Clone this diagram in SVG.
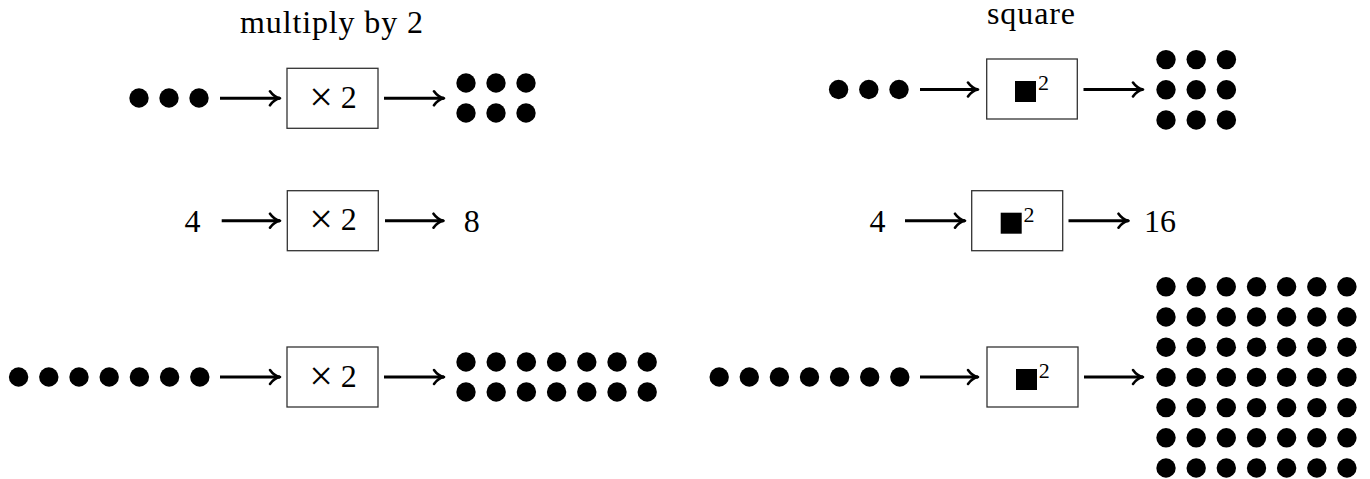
<svg xmlns="http://www.w3.org/2000/svg" width="1370" height="479" viewBox="0 0 1370 479">
<style>
.dot{fill:#000}
.box{fill:#fff;stroke:#333;stroke-width:1.3}
.t{font-family:"Liberation Serif","Times New Roman",serif;fill:#000}
.title{font-size:32px;text-anchor:middle}
.num{font-size:32px;text-anchor:middle}
.times{font-size:42px}
.sup{font-size:22px}
.arr{stroke:#000;stroke-width:2.9;fill:none;marker-end:url(#ah)}
</style>
<defs>
<marker id="ah" markerUnits="userSpaceOnUse" markerWidth="16" markerHeight="18" viewBox="-3 -9 16 18" refX="10" refY="0" orient="auto">
<path d="M0,-7 C3,-2.7 7,-0.6 10,0 C7,0.6 3,2.7 0,7" fill="none" stroke="#000" stroke-width="2.6" stroke-linecap="round" stroke-linejoin="round"/>
</marker>
</defs>
<rect width="1370" height="479" fill="#fff"/>

<g id="title-multiply"><text class="t title" x="331.5" y="33" textLength="183" lengthAdjust="spacing">multiply by 2</text></g>
<g id="title-square"><text class="t title" x="1031" y="24" textLength="88" lengthAdjust="spacing">square</text></g>

<!-- Left column -->
<g id="l1-in">
<circle class="dot" cx="139" cy="98" r="9.7"/><circle class="dot" cx="169" cy="98" r="9.7"/><circle class="dot" cx="199" cy="98" r="9.7"/>
</g>
<g id="l1-box"><rect class="box" x="287" y="68.3" width="91" height="60"/><text class="t num" x="333" y="107.5"><tspan class="times" dy="3">×</tspan><tspan dy="-3"> 2</tspan></text></g>
<g id="l1-out">
<circle class="dot" cx="466" cy="83" r="9.7"/><circle class="dot" cx="496" cy="83" r="9.7"/><circle class="dot" cx="526" cy="83" r="9.7"/>
<circle class="dot" cx="466" cy="113" r="9.7"/><circle class="dot" cx="496" cy="113" r="9.7"/><circle class="dot" cx="526" cy="113" r="9.7"/>
</g>

<g id="l2-in"><text class="t num" x="192.5" y="231.5">4</text></g>
<g id="l2-box"><rect class="box" x="287.3" y="190.7" width="91" height="60"/><text class="t num" x="333" y="230"><tspan class="times" dy="3">×</tspan><tspan dy="-3"> 2</tspan></text></g>
<g id="l2-out"><text class="t num" x="471.7" y="231.5">8</text></g>

<g id="l3-in">
<circle class="dot" cx="18.6" cy="377" r="9.7"/><circle class="dot" cx="48.8" cy="377" r="9.7"/><circle class="dot" cx="79" cy="377" r="9.7"/><circle class="dot" cx="109.2" cy="377" r="9.7"/><circle class="dot" cx="139.4" cy="377" r="9.7"/><circle class="dot" cx="169.6" cy="377" r="9.7"/><circle class="dot" cx="199.8" cy="377" r="9.7"/>
</g>
<g id="l3-box"><rect class="box" x="287" y="347" width="91" height="60"/><text class="t num" x="333" y="386.5"><tspan class="times" dy="3">×</tspan><tspan dy="-3"> 2</tspan></text></g>
<g id="l3-out">
<circle class="dot" cx="466" cy="362" r="9.7"/><circle class="dot" cx="496.2" cy="362" r="9.7"/><circle class="dot" cx="526.4" cy="362" r="9.7"/><circle class="dot" cx="556.6" cy="362" r="9.7"/><circle class="dot" cx="586.8" cy="362" r="9.7"/><circle class="dot" cx="617" cy="362" r="9.7"/><circle class="dot" cx="647.2" cy="362" r="9.7"/>
<circle class="dot" cx="466" cy="392" r="9.7"/><circle class="dot" cx="496.2" cy="392" r="9.7"/><circle class="dot" cx="526.4" cy="392" r="9.7"/><circle class="dot" cx="556.6" cy="392" r="9.7"/><circle class="dot" cx="586.8" cy="392" r="9.7"/><circle class="dot" cx="617" cy="392" r="9.7"/><circle class="dot" cx="647.2" cy="392" r="9.7"/>
</g>

<!-- Right column -->
<g id="r1-in">
<circle class="dot" cx="838.6" cy="89.5" r="9.7"/><circle class="dot" cx="868.8" cy="89.5" r="9.7"/><circle class="dot" cx="899" cy="89.5" r="9.7"/>
</g>
<g id="r1-box"><rect class="box" x="986.7" y="59" width="90.6" height="60"/><rect x="1015" y="81" width="21" height="21" fill="#000"/><text class="t sup" x="1038" y="90">2</text></g>
<g id="r1-out">
<circle class="dot" cx="1166" cy="59.6" r="9.7"/><circle class="dot" cx="1196.2" cy="59.6" r="9.7"/><circle class="dot" cx="1226.4" cy="59.6" r="9.7"/>
<circle class="dot" cx="1166" cy="89.8" r="9.7"/><circle class="dot" cx="1196.2" cy="89.8" r="9.7"/><circle class="dot" cx="1226.4" cy="89.8" r="9.7"/>
<circle class="dot" cx="1166" cy="120" r="9.7"/><circle class="dot" cx="1196.2" cy="120" r="9.7"/><circle class="dot" cx="1226.4" cy="120" r="9.7"/>
</g>

<g id="r2-in"><text class="t num" x="877.5" y="231.5">4</text></g>
<g id="r2-box"><rect class="box" x="971.7" y="190.7" width="91" height="60"/><rect x="1000.7" y="212.7" width="21" height="21" fill="#000"/><text class="t sup" x="1023.5" y="221.7">2</text></g>
<g id="r2-out"><text class="t num" x="1160" y="231.5">16</text></g>

<g id="r3-in">
<circle class="dot" cx="719.2" cy="377" r="9.7"/><circle class="dot" cx="749.3" cy="377" r="9.7"/><circle class="dot" cx="779.4" cy="377" r="9.7"/><circle class="dot" cx="809.5" cy="377" r="9.7"/><circle class="dot" cx="839.6" cy="377" r="9.7"/><circle class="dot" cx="869.7" cy="377" r="9.7"/><circle class="dot" cx="899.8" cy="377" r="9.7"/>
</g>
<g id="r3-box"><rect class="box" x="987" y="347" width="91" height="60"/><rect x="1016" y="369" width="21" height="21" fill="#000"/><text class="t sup" x="1038.8" y="378">2</text></g>
<g id="r3-out">
<g>
<circle class="dot" cx="1166" cy="286.8" r="9.7"/><circle class="dot" cx="1196.2" cy="286.8" r="9.7"/><circle class="dot" cx="1226.3" cy="286.8" r="9.7"/><circle class="dot" cx="1256.5" cy="286.8" r="9.7"/><circle class="dot" cx="1286.6" cy="286.8" r="9.7"/><circle class="dot" cx="1316.8" cy="286.8" r="9.7"/><circle class="dot" cx="1346.9" cy="286.8" r="9.7"/>
</g>
<g>
<circle class="dot" cx="1166" cy="317" r="9.7"/><circle class="dot" cx="1196.2" cy="317" r="9.7"/><circle class="dot" cx="1226.3" cy="317" r="9.7"/><circle class="dot" cx="1256.5" cy="317" r="9.7"/><circle class="dot" cx="1286.6" cy="317" r="9.7"/><circle class="dot" cx="1316.8" cy="317" r="9.7"/><circle class="dot" cx="1346.9" cy="317" r="9.7"/>
</g>
<g>
<circle class="dot" cx="1166" cy="347.2" r="9.7"/><circle class="dot" cx="1196.2" cy="347.2" r="9.7"/><circle class="dot" cx="1226.3" cy="347.2" r="9.7"/><circle class="dot" cx="1256.5" cy="347.2" r="9.7"/><circle class="dot" cx="1286.6" cy="347.2" r="9.7"/><circle class="dot" cx="1316.8" cy="347.2" r="9.7"/><circle class="dot" cx="1346.9" cy="347.2" r="9.7"/>
</g>
<g>
<circle class="dot" cx="1166" cy="377.4" r="9.7"/><circle class="dot" cx="1196.2" cy="377.4" r="9.7"/><circle class="dot" cx="1226.3" cy="377.4" r="9.7"/><circle class="dot" cx="1256.5" cy="377.4" r="9.7"/><circle class="dot" cx="1286.6" cy="377.4" r="9.7"/><circle class="dot" cx="1316.8" cy="377.4" r="9.7"/><circle class="dot" cx="1346.9" cy="377.4" r="9.7"/>
</g>
<g>
<circle class="dot" cx="1166" cy="407.6" r="9.7"/><circle class="dot" cx="1196.2" cy="407.6" r="9.7"/><circle class="dot" cx="1226.3" cy="407.6" r="9.7"/><circle class="dot" cx="1256.5" cy="407.6" r="9.7"/><circle class="dot" cx="1286.6" cy="407.6" r="9.7"/><circle class="dot" cx="1316.8" cy="407.6" r="9.7"/><circle class="dot" cx="1346.9" cy="407.6" r="9.7"/>
</g>
<g>
<circle class="dot" cx="1166" cy="437.8" r="9.7"/><circle class="dot" cx="1196.2" cy="437.8" r="9.7"/><circle class="dot" cx="1226.3" cy="437.8" r="9.7"/><circle class="dot" cx="1256.5" cy="437.8" r="9.7"/><circle class="dot" cx="1286.6" cy="437.8" r="9.7"/><circle class="dot" cx="1316.8" cy="437.8" r="9.7"/><circle class="dot" cx="1346.9" cy="437.8" r="9.7"/>
</g>
<g>
<circle class="dot" cx="1166" cy="468" r="9.7"/><circle class="dot" cx="1196.2" cy="468" r="9.7"/><circle class="dot" cx="1226.3" cy="468" r="9.7"/><circle class="dot" cx="1256.5" cy="468" r="9.7"/><circle class="dot" cx="1286.6" cy="468" r="9.7"/><circle class="dot" cx="1316.8" cy="468" r="9.7"/><circle class="dot" cx="1346.9" cy="468" r="9.7"/>
</g>
</g>

<g id="connectors">
<line class="arr" x1="220" y1="98.3" x2="280" y2="98.3"/>
<line class="arr" x1="384" y1="98.3" x2="444" y2="98.3"/>
<line class="arr" x1="221.7" y1="220.7" x2="280" y2="220.7"/>
<line class="arr" x1="385" y1="220.7" x2="443.5" y2="220.7"/>
<line class="arr" x1="220" y1="377" x2="280" y2="377"/>
<line class="arr" x1="384" y1="377" x2="444" y2="377"/>
<line class="arr" x1="920" y1="89.5" x2="978" y2="89.5"/>
<line class="arr" x1="1083.5" y1="89.5" x2="1143" y2="89.5"/>
<line class="arr" x1="905" y1="220.7" x2="965" y2="220.7"/>
<line class="arr" x1="1068.5" y1="220.7" x2="1128.5" y2="220.7"/>
<line class="arr" x1="920" y1="377" x2="978" y2="377"/>
<line class="arr" x1="1084" y1="377" x2="1143" y2="377"/>
</g>
</svg>
